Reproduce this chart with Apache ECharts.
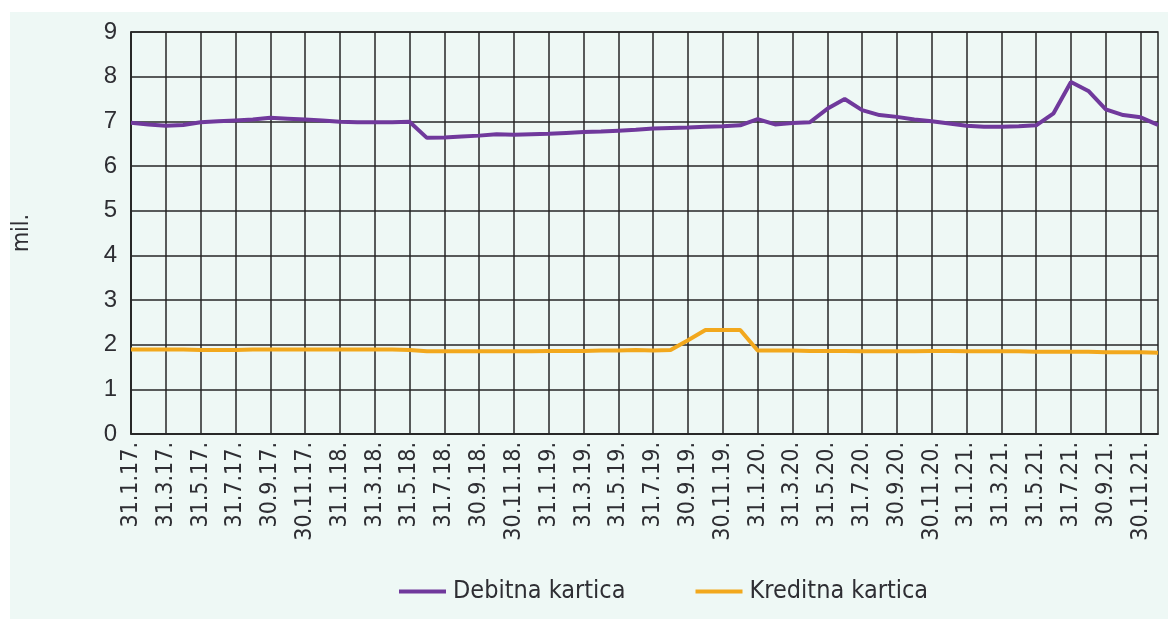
<!DOCTYPE html>
<html>
<head>
<meta charset="utf-8">
<script src="https://cdn.jsdelivr.net/npm/echarts@6/dist/echarts.min.js"></script>
<style>
html,body{margin:0;padding:0;background:#ffffff;}
#chart{width:1168px;height:619px;}
</style>
</head>
<body>
<div id="chart"></div>
<script>
// Month-end dates, Jan 2017 - Dec 2021
const months = [
 '31.1.17.','28.2.17.','31.3.17.','30.4.17.','31.5.17.','30.6.17.','31.7.17.','31.8.17.','30.9.17.','31.10.17.','30.11.17.','31.12.17.',
 '31.1.18.','28.2.18.','31.3.18.','30.4.18.','31.5.18.','30.6.18.','31.7.18.','31.8.18.','30.9.18.','31.10.18.','30.11.18.','31.12.18.',
 '31.1.19.','28.2.19.','31.3.19.','30.4.19.','31.5.19.','30.6.19.','31.7.19.','31.8.19.','30.9.19.','31.10.19.','30.11.19.','31.12.19.',
 '31.1.20.','29.2.20.','31.3.20.','30.4.20.','31.5.20.','30.6.20.','31.7.20.','31.8.20.','30.9.20.','31.10.20.','30.11.20.','31.12.20.',
 '31.1.21.','28.2.21.','31.3.21.','30.4.21.','31.5.21.','30.6.21.','31.7.21.','31.8.21.','30.9.21.','31.10.21.','30.11.21.','31.12.21.'
];
// Debit cards (millions)
const debitna = [
 6.97,6.93,6.90,6.92,6.98,7.00,7.02,7.04,7.08,7.06,7.04,7.02,
 6.99,6.98,6.98,6.98,6.99,6.63,6.64,6.66,6.68,6.71,6.70,6.71,
 6.72,6.74,6.76,6.77,6.79,6.81,6.84,6.85,6.86,6.88,6.89,6.91,
 7.05,6.93,6.96,6.98,7.28,7.50,7.25,7.14,7.10,7.04,7.00,6.95,
 6.90,6.88,6.88,6.89,6.91,7.18,7.88,7.68,7.27,7.14,7.09,6.92
];
// Credit cards (millions)
const kreditna = [
 1.89,1.89,1.89,1.89,1.88,1.88,1.88,1.89,1.89,1.89,1.89,1.89,
 1.89,1.89,1.89,1.89,1.88,1.85,1.85,1.85,1.85,1.85,1.85,1.85,
 1.86,1.86,1.86,1.87,1.87,1.88,1.87,1.88,2.10,2.33,2.33,2.33,
 1.87,1.87,1.87,1.86,1.86,1.86,1.85,1.85,1.85,1.85,1.86,1.86,
 1.85,1.85,1.85,1.85,1.84,1.84,1.84,1.84,1.83,1.83,1.83,1.82
];
const seriesNames = ['Debitna kartica','Kreditna kartica'];
const yName = 'mil.';

const narrow = "'DejaVu Sans Condensed', sans-serif";
const regular = "'Liberation Sans', Arial, sans-serif";
const txt = '#2e2e33';

const chart = echarts.init(document.getElementById('chart'), null, {renderer:'canvas'});
chart.setOption({
  animation:false,
  backgroundColor:'#ffffff',
  graphic:[{type:'rect', z:-10, shape:{x:10,y:12,width:1158,height:607}, style:{fill:'#eef8f5'}}],
  grid:{left:131,right:10,top:32,bottom:185,show:true,borderColor:'#262626',borderWidth:1.5,backgroundColor:'transparent'},
  legend:{
    left:394, top:574, itemWidth:47, itemHeight:4, itemGap:70,
    icon:'rect',
    textStyle:{fontFamily:narrow,fontSize:25,color:txt,padding:[0,0,0,2]},
    data:seriesNames
  },
  xAxis:{
    type:'category', data:months, boundaryGap:false,
    axisLine:{lineStyle:{color:'#262626',width:1.5}},
    axisTick:{show:false},
    axisLabel:{interval:1, rotate:90, margin:8, fontFamily:narrow, fontSize:23, color:txt},
    splitLine:{show:true, interval:1, lineStyle:{color:'#262626',width:1.5}}
  },
  yAxis:{
    type:'value', min:0, max:9, interval:1,
    name:yName, nameLocation:'middle', nameRotate:90, nameGap:97,
    nameTextStyle:{fontFamily:narrow,fontSize:23,color:txt},
    axisLine:{show:true,lineStyle:{color:'#262626',width:1.5}},
    axisTick:{show:false},
    axisLabel:{margin:14, fontFamily:regular, fontSize:24, color:txt},
    splitLine:{show:true,lineStyle:{color:'#262626',width:1.5}}
  },
  series:[
    {name:seriesNames[0], type:'line', data:debitna, symbol:'none', color:'#70399c', lineStyle:{width:4,color:'#70399c'}},
    {name:seriesNames[1], type:'line', data:kreditna, symbol:'none', color:'#f2a81d', lineStyle:{width:4,color:'#f2a81d'}}
  ]
});
</script>
</body>
</html>
